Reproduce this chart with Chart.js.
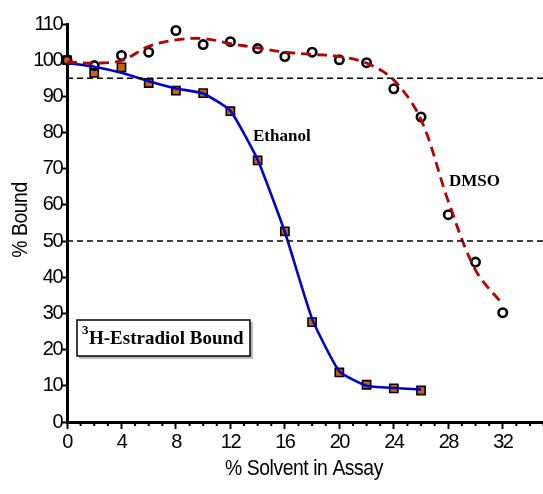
<!DOCTYPE html>
<html>
<head>
<meta charset="utf-8">
<script src="https://cdn.jsdelivr.net/npm/chart.js@4/dist/chart.umd.min.js"></script>
<style>
  html, body { margin: 0; padding: 0; background: #fff; overflow: hidden; }
  #wrap { width: 551px; height: 494px; position: relative; }
</style>
</head>
<body>
<div id="wrap"><canvas id="myChart"></canvas></div>
<script>
// % solvent in assay
var solvent = [0, 2, 4, 6, 8, 10, 12, 14, 16, 18, 20, 22, 24, 26, 28, 30, 32];

// measured % bound
var ethanolBound = [100, 96.5, 98, 93.7, 91.6, 90.9, 85.9, 72.3, 52.7, 27.6, 13.7, 10.3, 9.3, 8.7];
var dmsoBound = [100, 98.5, 101.3, 102.2, 108.2, 104.3, 105.1, 103.2, 101, 102.2, 100.1, 99.3, 92.1, 84.3, 57.3, 44.2, 30.2];

// fitted curves
var ethanolFit = [99.2, 98.2, 96.5, 94.2, 92.2, 90.8, 86, 72.5, 52.5, 28.5, 14, 10, 9.4, 9];
var dmsoFit = [99.5, 99.2, 99.9, 103.8, 105.6, 106, 104.6, 103.4, 102.2, 101.6, 101, 99.2, 94.5, 83.5, 61, 42, 32.5];

// reference levels
var refLevels = [95, 50];
var xRange = [0, 35];
var yRange = [0, 110];
var yTicks = [0, 10, 20, 30, 40, 50, 60, 70, 80, 90, 100, 110];

function toPoints(xs, ys) {
    var pts = [];
    for (let i = 0; i < ys.length; i++) {
        pts.push({x: xs[i], y: ys[i]});
    }
    return pts;
}

var datasets = [];
for (let i = 0; i < refLevels.length; i++) {
    datasets.push({
        data: [{x: xRange[0], y: refLevels[i]}, {x: xRange[1], y: refLevels[i]}],
        showLine: true,
        borderColor: '#000',
        borderWidth: 1.5,
        borderDash: [6, 4],
        pointRadius: 0,
        fill: false
    });
}
datasets.push({
    label: 'DMSO fit',
    data: toPoints(solvent, dmsoFit),
    showLine: true,
    borderColor: '#b00000',
    borderWidth: 2.8,
    borderDash: [10, 6],
    pointRadius: 0,
    tension: 0.35,
    fill: false
});
datasets.push({
    label: 'Ethanol fit',
    data: toPoints(solvent, ethanolFit),
    showLine: true,
    borderColor: '#0000c8',
    borderWidth: 2.6,
    pointRadius: 0,
    tension: 0.15,
    fill: false
});
datasets.push({
    label: 'DMSO',
    data: toPoints(solvent, dmsoBound),
    showLine: false,
    clip: false,
    pointStyle: 'circle',
    pointRadius: 4.2,
    pointBorderWidth: 2.6,
    pointBorderColor: '#000',
    pointBackgroundColor: 'rgba(255,255,255,0)'
});
datasets.push({
    label: 'Ethanol',
    data: toPoints(solvent, ethanolBound),
    showLine: false,
    clip: false,
    pointStyle: 'rect',
    pointRadius: 5.8,
    pointBorderWidth: 1.6,
    pointBorderColor: '#000',
    pointBackgroundColor: '#c86400'
});

var sans = '"Liberation Sans", Arial, sans-serif';
var serif = '"Liberation Serif", "DejaVu Serif", serif';

// tighter letters for the tick labels
var tighten = {
    id: 'tighten',
    beforeDraw: function(chart) { chart.ctx.letterSpacing = '-1.5px'; },
    afterDraw: function(chart) { chart.ctx.letterSpacing = '0px'; }
};

// titles, labels, minor ticks
var extras = {
    id: 'extras',
    afterDraw: function(chart) {
        var ctx = chart.ctx;
        var xs = chart.scales.x;
        var ys = chart.scales.y;
        var axisY = ys.getPixelForValue(0);
        ctx.save();
        ctx.letterSpacing = '0px';
        // minor ticks
        ctx.strokeStyle = '#000';
        ctx.lineWidth = 2;
        for (let v = 1; v <= xRange[1]; v++) {
            if (v % 4 === 0) continue;
            var px = xs.getPixelForValue(v);
            ctx.beginPath();
            ctx.moveTo(px, axisY);
            ctx.lineTo(px, axisY + 4);
            ctx.stroke();
        }
        // axis titles (condensed)
        ctx.fillStyle = '#000';
        ctx.font = '22px ' + sans;
        ctx.textAlign = 'center';
        ctx.textBaseline = 'middle';
        ctx.save();
        ctx.translate(304, 469);
        ctx.scale(0.88, 1);
        ctx.letterSpacing = '-0.5px';
        ctx.fillText('% Solvent in Assay', 0, 0);
        ctx.restore();
        ctx.save();
        ctx.translate(21, 220);
        ctx.rotate(-Math.PI / 2);
        ctx.scale(0.88, 1);
        ctx.letterSpacing = '-0.5px';
        ctx.fillText('% Bound', 0, 0);
        ctx.restore();
        // series labels
        ctx.font = 'bold 17px ' + serif;
        ctx.textAlign = 'left';
        ctx.fillText('Ethanol', 253, 137);
        ctx.fillText('DMSO', 449, 182);
        // box
        ctx.fillStyle = '#bbb';
        ctx.fillRect(79, 322, 174, 37);
        ctx.fillStyle = '#fff';
        ctx.fillRect(77, 320, 173, 36);
        ctx.strokeStyle = '#000';
        ctx.lineWidth = 1.5;
        ctx.strokeRect(77, 320, 173, 36);
        ctx.fillStyle = '#000';
        ctx.font = 'bold 13px ' + serif;
        ctx.fillText('3', 82, 331);
        ctx.font = 'bold 19px ' + serif;
        ctx.fillText('H-Estradiol Bound', 89, 339);
        ctx.restore();
    }
};

var ctx = document.getElementById('myChart').getContext('2d');
var myChart = new Chart(ctx, {
    type: 'scatter',
    data: { datasets: datasets },
    options: {
        responsive: true,
        maintainAspectRatio: false,
        animation: false,
        layout: { padding: { left: 0, right: 0, top: 24, bottom: 0 } },
        plugins: {
            legend: { display: false },
            tooltip: { enabled: false }
        },
        scales: {
            x: {
                type: 'linear',
                min: xRange[0],
                max: xRange[1],
                afterFit: function(scale) { scale.height = 72; },
                border: { display: true, color: '#000', width: 3 },
                grid: {
                    drawOnChartArea: false,
                    drawTicks: true,
                    tickLength: 7,
                    tickWidth: 2,
                    tickColor: function(c) {
                        return (c.tick && c.tick.value % 4 === 0) ? '#000' : 'rgba(0,0,0,0)';
                    }
                },
                ticks: {
                    stepSize: 1,
                    autoSkip: false,
                    maxRotation: 0,
                    padding: 1,
                    color: '#000',
                    font: { family: sans, size: 20 },
                    callback: function(v) { return v % 4 === 0 ? String(v) : ''; }
                }
            },
            y: {
                type: 'linear',
                min: yRange[0],
                max: yRange[1],
                afterFit: function(scale) { scale.width = 67; },
                afterBuildTicks: function(scale) {
                    scale.ticks = yTicks.map(function(v) { return {value: v}; });
                },
                border: { display: true, color: '#000', width: 3 },
                grid: {
                    drawOnChartArea: false,
                    drawTicks: true,
                    tickLength: 5,
                    tickWidth: 2,
                    tickColor: '#000'
                },
                ticks: {
                    padding: 0,
                    color: '#000',
                    font: { family: sans, size: 20 }
                }
            }
        }
    },
    plugins: [tighten, extras]
});
</script>
</body>
</html>
